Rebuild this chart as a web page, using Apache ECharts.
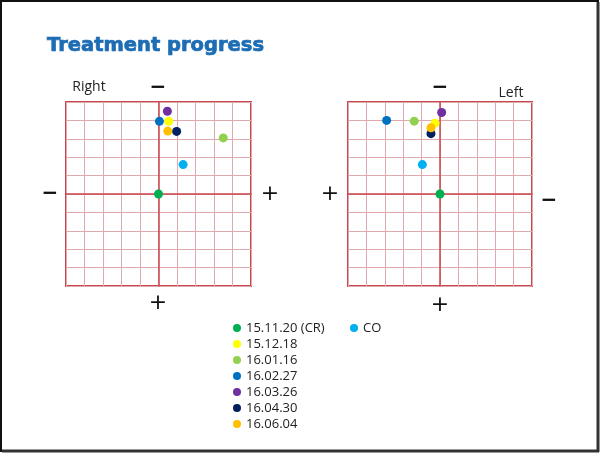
<!DOCTYPE html>
<html><head><meta charset="utf-8">
<script src="https://cdn.jsdelivr.net/npm/echarts@6/dist/echarts.min.js"></script>
<style>html,body{margin:0;padding:0;background:#fff}#c{width:600px;height:453px}</style>
</head><body><div id="c"></div>
<script>
const dates = ['15.11.20 (CR)','15.12.18','16.01.16','16.02.27','16.03.26','16.04.30','16.06.04','CO'];
const palette = ['#00B050','#FFFF00','#92D050','#0070C0','#7030A0','#002060','#FFC000','#00B0F0'];
// Right eye (left chart): x = horizontal, y = vertical (negative = up)
const rightX = [0, 0.55, 3.5, 0.05, 0.48, 0.98, 0.5, 1.33];
const rightY = [0, -3.95, -3.05, -3.95, -4.5, -3.4, -3.42, -1.6];
// Left eye (right chart): x positive towards the "+" side (left)
const leftX = [0, 0.27, 1.4, 2.9, -0.09, 0.49, 0.49, 0.96];
const leftY = [0, -3.85, -3.96, -4.0, -4.43, -3.28, -3.6, -1.6];
const axisTicks = [-5, 5, 1];

const chart = echarts.init(document.getElementById('c'));
const red = '#c9464c', pink = '#dfa9ae';
function xA(gi, inv){return {gridIndex:gi,type:'value',min:axisTicks[0],max:axisTicks[1],interval:axisTicks[2],inverse:inv,
  axisLine:{onZero:true,lineStyle:{color:red,width:1.5}},axisTick:{show:false},axisLabel:{show:false},
  splitLine:{show:true,lineStyle:{color:pink,width:1}}};}
function yA(gi){return {gridIndex:gi,type:'value',min:axisTicks[0],max:axisTicks[1],interval:axisTicks[2],inverse:true,
  axisLine:{onZero:true,lineStyle:{color:red,width:1.5}},axisTick:{show:false},axisLabel:{show:false},
  splitLine:{show:true,lineStyle:{color:pink,width:1}}};}
const series = [];
dates.forEach((d,i)=>{
  series.push({name:d,type:'scatter',xAxisIndex:0,yAxisIndex:0,symbolSize:9,itemStyle:{color:palette[i],opacity:1},data:[[rightX[i],rightY[i]]]});
  series.push({name:d,type:'scatter',xAxisIndex:1,yAxisIndex:1,symbolSize:9,itemStyle:{color:palette[i],opacity:1},data:[[leftX[i],leftY[i]]]});
});
function t(x,y,s,opt){return Object.assign({type:'text',x:x,y:y,style:Object.assign({text:s,fill:'#111',font:'20px "DejaVu Sans"',textAlign:'center',textVerticalAlign:'middle'},opt||{})});}
const legText = {fontSize:13,color:'#222',lineHeight:16,fontFamily:'"Open Sans", sans-serif'};
chart.setOption({
  animation:false,
  textStyle:{fontFamily:'"Open Sans", "DejaVu Sans", sans-serif'},
  title:{text:'Treatment progress',left:42,top:31,textStyle:{fontFamily:'"DejaVu Sans"',fontWeight:'bold',fontSize:19.5,color:'#1d6db5',textBorderColor:'#1d6db5',textBorderWidth:0.7}},
  grid:[{left:66,top:102,width:185,height:184,show:true,borderColor:red,borderWidth:2,backgroundColor:'#fff'},
        {left:348,top:102,width:184,height:184,show:true,borderColor:red,borderWidth:2,backgroundColor:'#fff'}],
  xAxis:[xA(0,false),xA(1,true)],
  yAxis:[yA(0),yA(1)],
  legend:[{data:dates.slice(0,7),orient:'vertical',left:228,top:315,itemWidth:8,itemHeight:8,itemGap:0,icon:'circle',
    textStyle:legText,selectedMode:false},
    {data:['CO'],orient:'vertical',left:345,top:315,itemWidth:8,itemHeight:8,itemGap:0,icon:'circle',
    textStyle:legText,selectedMode:false}],
  graphic:[
    {type:'rect',shape:{x:1,y:1,width:597,height:450},style:{fill:'none',stroke:'#111',lineWidth:2},silent:true},
    {type:'line',shape:{x1:598,y1:2,x2:598,y2:452},style:{stroke:'#333',lineWidth:3}},
    {type:'line',shape:{x1:2,y1:451,x2:599,y2:451},style:{stroke:'#333',lineWidth:3}},
    t(89,87,'Right',{font:'14px "Open Sans"',fill:'#222'}),
    t(511,93,'Left',{font:'14px "Open Sans"',fill:'#222'}),
    t(158,88,'−',{font:'bold 20px "DejaVu Sans"'}),
    t(50,194,'−',{font:'bold 20px "DejaVu Sans"'}),
    t(270,194,'+',{font:'22px "DejaVu Sans"'}),
    t(158,303,'+',{font:'22px "DejaVu Sans"'}),
    t(440,88,'−',{font:'bold 20px "DejaVu Sans"'}),
    t(330,194,'+',{font:'22px "DejaVu Sans"'}),
    t(549,201,'−',{font:'bold 20px "DejaVu Sans"'}),
    t(440,305,'+',{font:'22px "DejaVu Sans"'})
  ],
  series:series
});
</script></body></html>
